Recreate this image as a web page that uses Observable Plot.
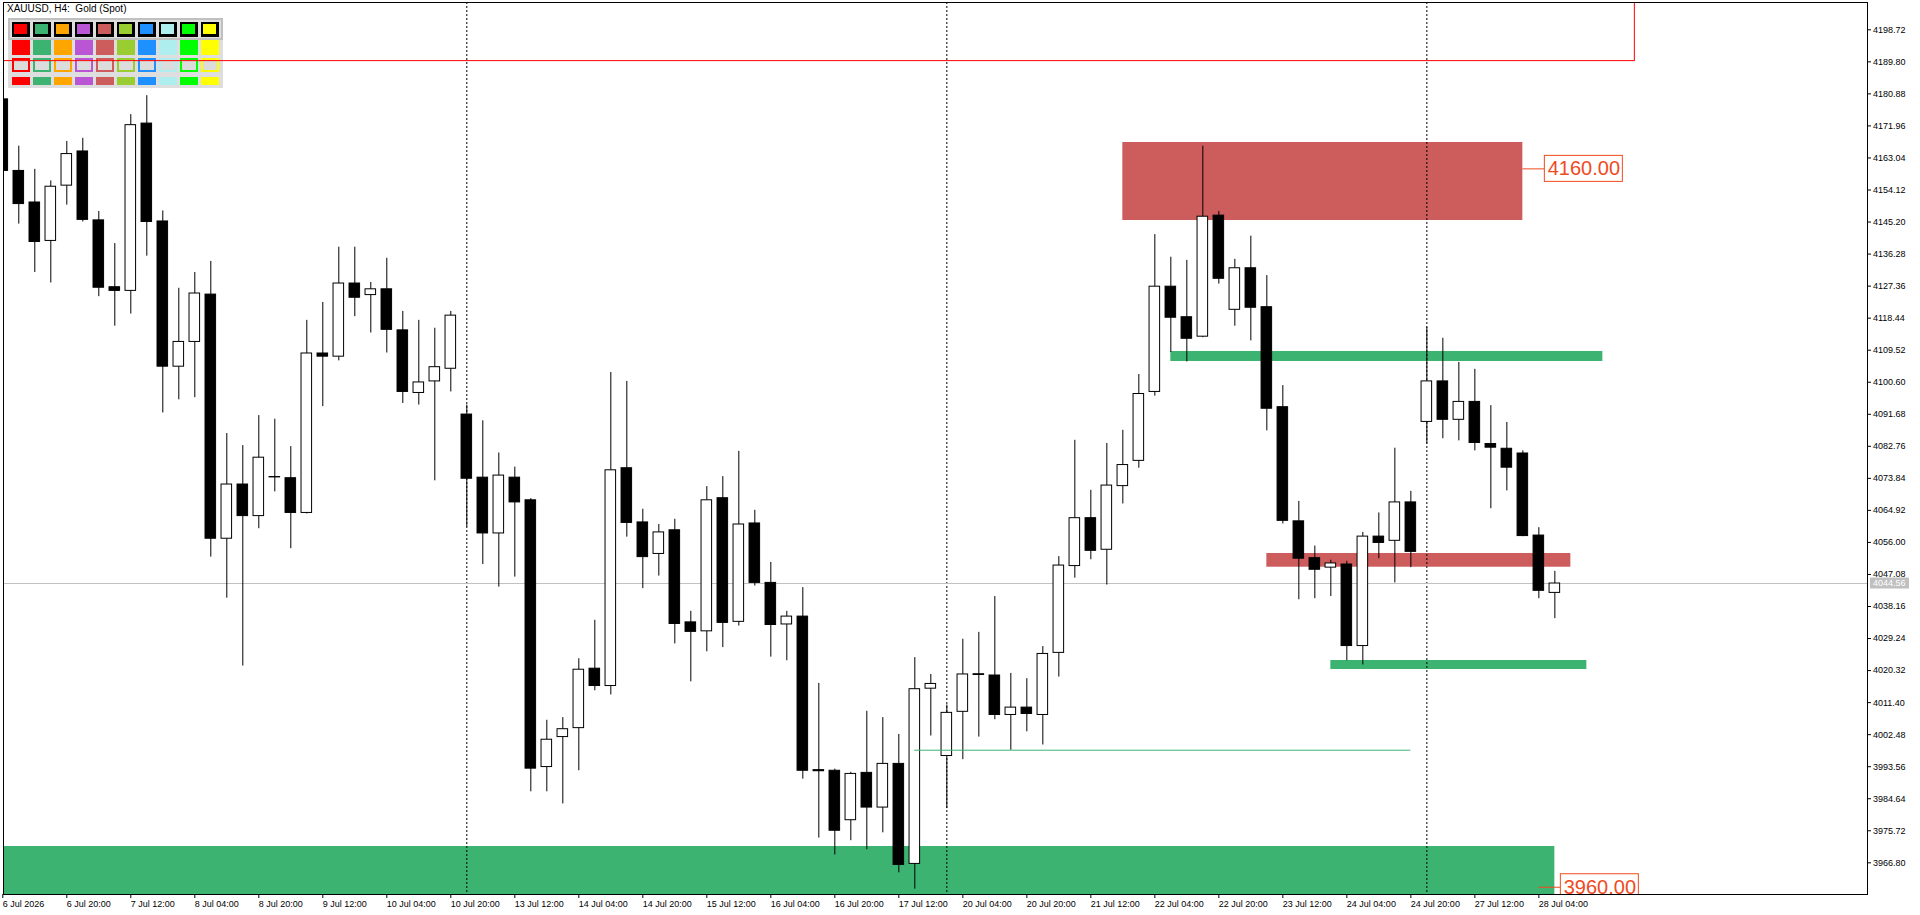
<!DOCTYPE html>
<html>
<head>
<meta charset="utf-8">
<script src="https://cdn.jsdelivr.net/npm/d3@7"></script>
<script src="https://cdn.jsdelivr.net/npm/@observablehq/plot@0.6"></script>
<style>
  html, body { margin: 0; padding: 0; background: #fff; overflow: hidden; }
  #wrap { position: relative; width: 1920px; height: 915px; }
  #chart { position: absolute; left: 0; top: 0; z-index: 1; }
  #title { position: absolute; left: 7px; top: 3px; z-index: 2; font: 10px "Liberation Sans", sans-serif; white-space: pre; }
  #palette { position: absolute; left: 8px; top: 18px; width: 215px; height: 70px; z-index: 0; background: #dedede; }
  #palette .top { position: absolute; left: 0; top: 0; width: 215px; height: 22px; box-sizing: border-box; border: 2px solid #c0c0c0; }
  #palette .cell { position: absolute; box-sizing: border-box; }
</style>
</head>
<body>
<div id="wrap">
  <div id="title"></div>
  <div id="palette"><div class="top"></div></div>
  <div id="chart"></div>
</div>
<script>
// XAUUSD H4, 6 Jul 04:00 .. 28 Jul 08:00 (bar index = position)
const open = [4179.35, 4159.43, 4150.64, 4139.94, 4155.33, 4164.85, 4145.66, 4127.05, 4126.03, 4172.61,
  4145.36, 4104.93, 4111.82, 4125.00, 4057.03, 4072.12, 4063.33, 4074.20, 4073.88, 4064.21,
  4108.60, 4107.72, 4128.08, 4124.86, 4126.47, 4115.04, 4097.61, 4100.83, 4104.35, 4091.60,
  4074.03, 4058.50, 4074.03, 4067.73, 3993.46, 4001.81, 4004.30, 4020.85, 4016.02, 4076.66,
  4061.57, 4052.79, 4059.38, 4033.74, 4031.25, 4068.31, 4033.89, 4061.28, 4044.73, 4033.16,
  4035.35, 3992.60, 3992.43, 3978.66, 3991.84, 3982.18, 3994.34, 3966.50, 4015.28, 3996.53,
  4008.84, 4019.30, 4018.95, 4007.96, 4010.01, 4007.96, 4025.25, 4049.42, 4062.75, 4053.96,
  4071.68, 4078.71, 4097.90, 4127.20, 4118.70, 4113.28, 4146.98, 4120.76, 4132.33, 4121.49,
  4093.65, 4061.87, 4051.61, 4048.98, 4049.85, 4027.15, 4057.62, 4056.45, 4067.14, 4089.55,
  4100.83, 4090.14, 4095.12, 4083.40, 4082.08, 4080.76, 4057.91, 4041.95];
const high = [4179.60, 4166.31, 4159.87, 4156.64, 4167.63, 4168.51, 4148.15, 4139.21, 4175.10, 4180.38,
  4148.29, 4126.76, 4131.16, 4134.23, 4086.33, 4082.96, 4091.31, 4090.29, 4082.67, 4117.83,
  4122.81, 4138.19, 4138.19, 4128.37, 4135.11, 4120.32, 4117.83, 4115.63, 4120.32, 4094.24,
  4089.85, 4080.91, 4076.96, 4068.20, 4006.49, 4007.23, 4023.63, 4034.33, 4103.32, 4100.83,
  4065.24, 4060.99, 4062.45, 4036.82, 4071.54, 4074.32, 4081.35, 4064.94, 4050.44, 4036.82,
  4043.41, 4016.75, 3992.87, 3991.99, 4008.99, 4007.23, 4002.54, 4023.93, 4019.24, 4010.74,
  4029.05, 4030.96, 4040.92, 4019.53, 4018.07, 4027.00, 4052.05, 4084.43, 4070.51, 4083.55,
  4087.21, 4102.74, 4141.70, 4135.40, 4134.53, 4166.31, 4148.15, 4134.82, 4141.26, 4130.28,
  4099.66, 4067.43, 4054.98, 4051.03, 4050.74, 4058.79, 4064.21, 4082.23, 4070.22, 4115.92,
  4112.84, 4106.11, 4104.20, 4094.09, 4089.41, 4081.50, 4060.11, 4047.95];
const low = [4159.00, 4144.63, 4131.16, 4128.23, 4149.91, 4145.22, 4124.42, 4116.21, 4119.58, 4135.70,
  4092.04, 4095.71, 4096.29, 4051.91, 4040.48, 4021.58, 4059.82, 4070.07, 4054.25, 4063.92,
  4093.80, 4106.55, 4118.85, 4114.31, 4108.74, 4094.68, 4094.24, 4073.15, 4097.90, 4060.26,
  4049.85, 4043.56, 4046.34, 3986.57, 3986.57, 3983.20, 3992.43, 4014.70, 4013.53, 4057.47,
  4043.12, 4046.63, 4027.74, 4017.19, 4025.54, 4026.71, 4032.72, 4043.85, 4024.07, 4023.05,
  3990.09, 3973.68, 3968.99, 3972.95, 3970.46, 3975.15, 3964.01, 3959.47, 4002.10, 3981.89,
  3995.51, 4001.81, 4006.64, 3998.15, 4003.27, 3999.61, 4018.51, 4046.05, 4051.17, 4044.14,
  4066.70, 4076.66, 4096.73, 4108.89, 4106.25, 4112.99, 4127.93, 4116.21, 4112.11, 4087.06,
  4061.13, 4040.04, 4040.33, 4040.92, 4023.05, 4021.88, 4051.47, 4044.73, 4048.98, 4083.40,
  4084.87, 4084.28, 4081.50, 4065.38, 4070.36, 4057.60, 4040.33, 4034.77];
const close = [4159.43, 4150.20, 4139.65, 4155.03, 4164.12, 4145.80, 4126.91, 4126.03, 4172.17, 4145.22,
  4104.93, 4111.82, 4125.30, 4057.03, 4072.12, 4063.33, 4079.59, 4074.10, 4064.21, 4108.60,
  4107.72, 4128.08, 4124.12, 4126.47, 4115.19, 4097.90, 4100.54, 4104.79, 4119.14, 4073.73,
  4058.50, 4074.61, 4067.14, 3993.02, 4001.07, 4004.00, 4020.56, 4016.02, 4076.08, 4061.43,
  4051.91, 4058.79, 4033.30, 4031.10, 4067.73, 4033.60, 4060.99, 4044.73, 4033.01, 4035.35,
  3992.43, 3992.30, 3975.73, 3991.55, 3982.18, 3994.34, 3966.21, 4015.14, 4016.60, 4008.55,
  4019.24, 4019.10, 4007.96, 4010.01, 4008.25, 4024.95, 4049.56, 4062.75, 4053.66, 4071.83,
  4077.54, 4097.32, 4127.20, 4118.56, 4112.70, 4146.68, 4129.40, 4132.33, 4121.34, 4093.22,
  4062.01, 4051.47, 4048.39, 4050.15, 4027.15, 4057.62, 4055.86, 4067.14, 4053.37, 4100.83,
  4090.14, 4095.12, 4083.69, 4082.38, 4076.81, 4057.77, 4042.53, 4044.56];

// time axis
const xTickBars = [0, 4, 8, 12, 16, 20, 24, 28, 32, 36, 40, 44, 48, 52, 56, 60, 64, 68, 72, 76, 80, 84, 88, 92, 96];
const xTickLabels = ["6 Jul 2026", "6 Jul 20:00", "7 Jul 12:00", "8 Jul 04:00", "8 Jul 20:00", "9 Jul 12:00",
  "10 Jul 04:00", "10 Jul 20:00", "13 Jul 12:00", "14 Jul 04:00", "14 Jul 20:00", "15 Jul 12:00",
  "16 Jul 04:00", "16 Jul 20:00", "17 Jul 12:00", "20 Jul 04:00", "20 Jul 20:00", "21 Jul 12:00",
  "22 Jul 04:00", "22 Jul 20:00", "23 Jul 12:00", "24 Jul 04:00", "24 Jul 20:00", "27 Jul 12:00", "28 Jul 04:00"];
const weekStarts = [29, 59, 89];

// price axis
const yTicks = [3966.80, 3975.72, 3984.64, 3993.56, 4002.48, 4011.40, 4020.32, 4029.24, 4038.16, 4047.08,
  4056.00, 4064.92, 4073.84, 4082.76, 4091.68, 4100.60, 4109.52, 4118.44, 4127.36, 4136.28,
  4145.20, 4154.12, 4163.04, 4171.96, 4180.88, 4189.80, 4198.72];

// drawn zones
const zoneFrom = [70, 73, 79, 83, -5];
const zoneTo = [95, 100, 98, 99, 97];
const zoneHigh = [4167.34, 4109.16, 4052.92, 4023.13, 3971.34];
const zoneLow = [4145.63, 4106.37, 4049.10, 4020.62, 3950.00];
const zoneKind = ["supply", "demand", "supply", "demand", "demand"];

// price tags
const tagPrice = [4160.00, 3960.00];
const tagBar = [95, 96];

// other objects
const trendLine = {from: 57, to: 88, price: 3998.15};
const outlineBox = {from: -20, to: 102, low: 4190.00, high: 4230.00};

const paletteColors = ["#ff0000", "#3cb371", "#ffa500", "#ba55d3", "#cd5c5c", "#9acd32", "#1e90ff", "#afeeee", "#00ff00", "#ffff00"];

const zoneColor = {supply: "#cd5c5c", demand: "#3cb371"};
const tagColor = "#f04a1e";

const bars = open.map((o, i) => ({i, open: o, high: high[i], low: low[i], close: close[i]}));
const zones = zoneFrom.map((f, k) => ({from: f, to: zoneTo[k], high: zoneHigh[k], low: zoneLow[k], kind: zoneKind[k]}));
const tags = tagPrice.map((p, k) => ({price: p, bar: tagBar[k]}));
const ticks = xTickBars.map((b, k) => ({bar: b, label: xTickLabels[k]}));
const lastClose = close[close.length - 1];

const xDomain = [0.044, 116.54];
const yDomain = [3957.98, 4206.32];
const xRight = () => xDomain[1];
const yBottom = () => yDomain[0];

const chart = Plot.plot({
  width: 1920,
  height: 915,
  marginLeft: 3,
  marginRight: 53,
  marginTop: 2,
  marginBottom: 21,
  x: {domain: xDomain, axis: null},
  y: {domain: yDomain, axis: null},
  color: {type: 'identity'},
  style: {background: 'transparent', fontFamily: '"Liberation Sans", sans-serif', fontSize: '9px', color: 'black'},
  marks: [
    Plot.rect(zones, {x1: 'from', x2: 'to', y1: 'low', y2: 'high', fill: d => zoneColor[d.kind], clip: true}),
    Plot.ruleX(weekStarts, {x: d => d, stroke: 'black', strokeDasharray: '2,2'}),
    Plot.ruleY([lastClose], {y: d => d, stroke: '#c0c0c0'}),
    Plot.ruleX(bars, {x: 'i', y1: 'low', y2: 'high', stroke: 'black', clip: true}),
    Plot.rect(bars, {
      x1: d => d.i - 0.33,
      x2: d => d.i + 0.33,
      y1: 'open',
      y2: 'close',
      fill: d => d.close >= d.open ? 'white' : 'black',
      stroke: 'black',
      clip: true
    }),
    Plot.ruleY([trendLine], {y: 'price', x1: 'from', x2: 'to', stroke: '#3cb371'}),
    Plot.rect([outlineBox], {x1: 'from', x2: 'to', y1: 'low', y2: 'high', fill: 'none', stroke: 'red', clip: true}),
    // price tags on the zones
    Plot.ruleY(tags, {y: 'price', x1: 'bar', x2: 'bar', insetRight: -22, stroke: tagColor, clip: true}),
    Plot.rect(tags, {
      x1: 'bar', x2: 'bar', y1: 'price', y2: 'price',
      insetLeft: 22, insetRight: -100, insetTop: -13, insetBottom: -13,
      fill: 'white', stroke: tagColor, clip: true
    }),
    Plot.text(tags, {x: 'bar', y: 'price', text: d => d.price.toFixed(2), dx: 61, fontSize: 20, fill: tagColor, clip: true}),
    Plot.frame({stroke: 'black'}),
    // time axis
    Plot.ruleX(ticks, {x: 'bar', y1: yBottom, y2: yBottom, insetBottom: -4, stroke: 'black'}),
    Plot.text(ticks, {x: 'bar', y: yBottom, text: 'label', textAnchor: 'start', lineAnchor: 'bottom', dy: 12.7, fontSize: 9, fill: 'black'}),
    // price axis
    Plot.ruleY(yTicks, {y: d => d, x1: xRight, x2: xRight, insetRight: -4, stroke: 'black'}),
    Plot.text(yTicks, {x: xRight, y: d => d, text: d => d.toFixed(2), textAnchor: 'start', dx: 5.5, fontSize: 9, fill: 'black'}),
    // bid tag
    Plot.rect([lastClose], {
      x1: xRight, x2: xRight, y1: d => d, y2: d => d,
      insetLeft: 3, insetRight: -42, insetTop: -5.5, insetBottom: -5.5, fill: '#c0c0c0'
    }),
    Plot.text([lastClose], {x: xRight, y: d => d, text: d => d.toFixed(2), textAnchor: 'start', dx: 5.5, fontSize: 9, fill: 'white'})
  ]
});
document.getElementById('chart').append(chart);

document.getElementById('title').textContent = 'XAUUSD, H4:  Gold (Spot)';

// colour picker panel in the corner
const pal = document.getElementById('palette');
paletteColors.forEach((c, k) => {
  const left = 4 + 21 * k;
  const rows = [
    {top: 4, h: 15, css: `background:${c};border:2px solid #000;border-right-width:3px;border-bottom-width:3px;`},
    {top: 22.3, h: 15, css: `background:${c};`},
    {top: 40, h: 14, css: `background:#dcdcdc;border:2px solid ${c};`},
    {top: 59, h: 8.3, css: `background:${c};`}
  ];
  for (const r of rows) {
    const el = document.createElement('div');
    el.className = 'cell';
    el.style.cssText = `left:${left}px;top:${r.top}px;width:17.5px;height:${r.h}px;` + r.css;
    pal.append(el);
  }
});
</script>
</body>
</html>
